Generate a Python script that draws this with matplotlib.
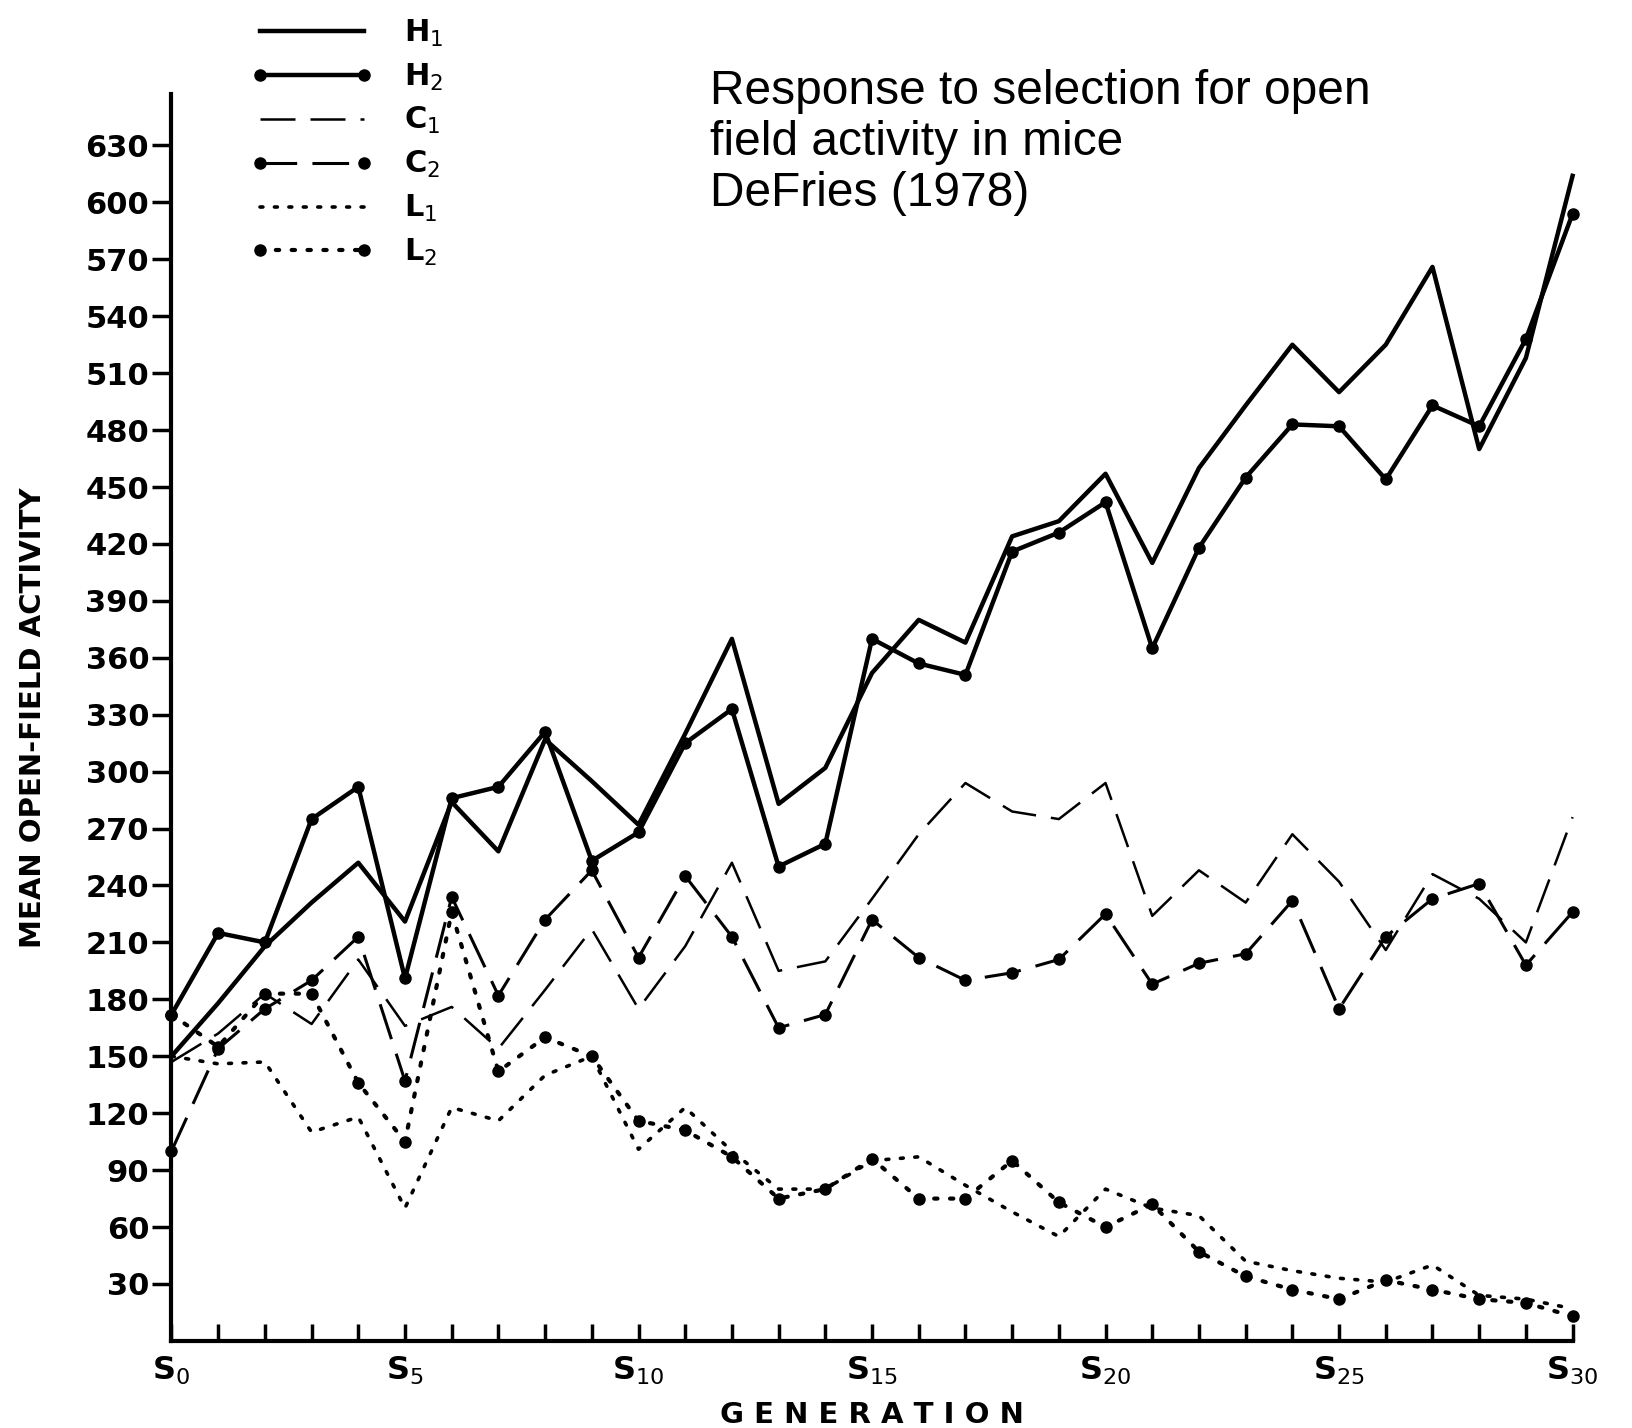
import matplotlib.pyplot as plt
import numpy as np

# generations S0..S30
gen = np.arange(31)

H1 = [150, 178, 208, 231, 252, 221, 284, 258, 317, 295, 272, 320, 370, 283, 302,
      352, 380, 368, 424, 432, 457, 410, 460, 493, 525, 500, 525, 566, 470, 518, 614]
H2 = [172, 215, 210, 275, 292, 191, 286, 292, 321, 253, 268, 315, 333, 250, 262,
      370, 357, 351, 416, 426, 442, 365, 418, 455, 483, 482, 454, 493, 482, 528, 594]
C1 = [147, 162, 183, 167, 201, 166, 176, 154, 185, 217, 175, 208, 252, 195, 200,
      233, 267, 294, 279, 275, 294, 224, 248, 231, 267, 242, 206, 246, 233, 210, 276]
C2 = [100, 154, 175, 190, 213, 137, 234, 182, 222, 248, 202, 245, 213, 165, 172,
      222, 202, 190, 194, 201, 225, 188, 199, 204, 232, 175, 213, 233, 241, 198, 226]
L1 = [150, 146, 147, 110, 118, 70, 123, 116, 140, 150, 101, 123, 100, 80, 80,
      95, 97, 82, 68, 55, 80, 70, 66, 42, 37, 33, 31, 40, 24, 22, 17]
L2 = [172, 155, 183, 183, 136, 105, 226, 142, 160, 150, 116, 111, 97, 75, 80,
      96, 75, 75, 95, 73, 60, 72, 47, 34, 27, 22, 32, 27, 22, 20, 13]

yticks = list(range(30, 631, 30))
xtick_pos = [0, 5, 10, 15, 20, 25, 30]
xtick_labels = ["S$_{%d}$" % g for g in xtick_pos]

fig = plt.figure(figsize=(16.33, 14.28), dpi=100)
ax = fig.add_axes([0.105, 0.061, 0.858, 0.873])

k = "black"
ax.plot(gen, H1, color=k, lw=3.2, label="H$_1$", clip_on=False)
ax.plot(gen, H2, color=k, lw=3.2, marker="o", ms=8, label="H$_2$", clip_on=False)
ax.plot(gen, C1, color=k, lw=1.8, dashes=(14, 6), label="C$_1$", clip_on=False)
ax.plot(gen, C2, color=k, lw=2.2, dashes=(12, 5), marker="o", ms=8, label="C$_2$", clip_on=False)
ax.plot(gen, L1, color=k, lw=2.6, ls=(0, (0.8, 3.2)), dash_capstyle="round", label="L$_1$", clip_on=False)
ax.plot(gen, L2, color=k, lw=3.0, ls=(0, (0.8, 3.0)), dash_capstyle="round", marker="o", ms=8,
        label="L$_2$", clip_on=False)

ax.set_xlim(0, 30)
ax.set_ylim(0, 657)
for s in ["top", "right"]:
    ax.spines[s].set_visible(False)
for s in ["left", "bottom"]:
    ax.spines[s].set_linewidth(3)

ax.set_yticks(yticks)
ax.set_yticklabels([str(v) for v in yticks], fontsize=22, fontweight="bold")
ax.tick_params(axis="y", direction="out", length=14, width=2.5, pad=2)
ax.set_xticks(xtick_pos)
ax.set_xticklabels(xtick_labels, fontsize=23, fontweight="bold")
ax.set_xticks(gen, minor=True)
ax.tick_params(axis="x", which="both", direction="in", length=12, width=2.5, pad=10)

ax.set_ylabel("MEAN OPEN-FIELD ACTIVITY", fontsize=21, fontweight="bold", labelpad=28)
ax.set_xlabel("G E N E R A T I O N", fontsize=21, fontweight="bold", labelpad=10)

fig.legend(loc="upper left", bbox_to_anchor=(0.137, 1.007), frameon=False,
           handlelength=4.0, numpoints=2, labelspacing=0.42, handletextpad=1.0,
           prop={"weight": "bold", "size": 22})

fig.text(0.435, 0.952, "Response to selection for open\nfield activity in mice\nDeFries (1978)",
         fontsize=34.5, family="Liberation Sans", va="top", ha="left", linespacing=1.18)

fig.savefig("out.png", dpi=100)
